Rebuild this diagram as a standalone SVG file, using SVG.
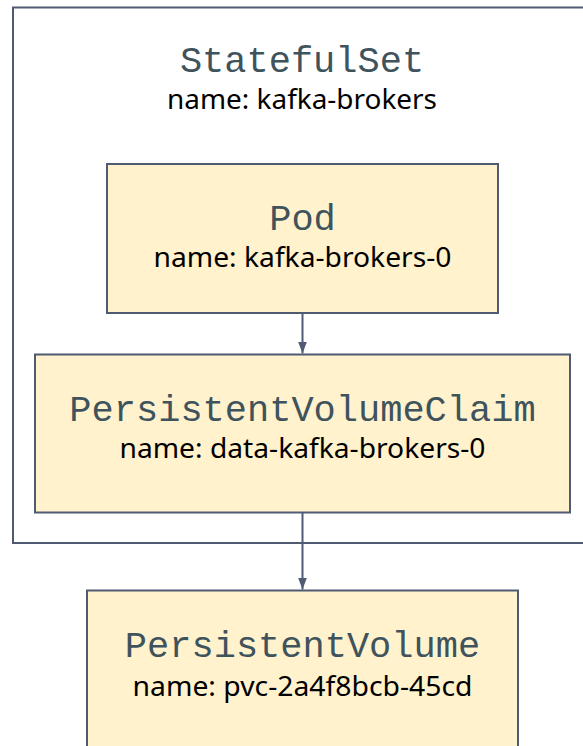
<svg xmlns="http://www.w3.org/2000/svg" width="583" height="746" viewBox="0 0 583 746">
  <defs>
    <style>
      .box { fill: #fff2cc; stroke: #4e5b72; stroke-width: 2; }
      .frame { fill: #ffffff; stroke: #4e5b72; stroke-width: 2; }
      .kind { font-family: "Liberation Mono", "Courier New", monospace; font-size: 37px; fill: #3f535c; text-anchor: middle; }
      .name { font-family: "Noto Sans", "Liberation Sans", sans-serif; font-size: 27px; fill: #000000; text-anchor: middle; }
      .edge { stroke: #4e5b72; stroke-width: 2; fill: none; }
    </style>
    <marker id="arrow" markerUnits="userSpaceOnUse" markerWidth="12" markerHeight="10" viewBox="0 0 12 10" refX="12" refY="5" orient="auto">
      <path d="M0,0.5 L12,5 L0,9.5 z" fill="#4e5b72"/>
    </marker>
  </defs>
  <rect width="583" height="746" fill="#ffffff"/>

  <!-- StatefulSet container -->
  <g id="statefulset">
    <rect class="frame" x="13" y="7.5" width="580" height="535.5"/>
    <text class="kind" x="302" y="72">StatefulSet</text>
    <text class="name" x="302" y="109" textLength="270" lengthAdjust="spacingAndGlyphs">name: kafka-brokers</text>
  </g>

  <g id="pod">
    <rect class="box" x="107" y="164" width="391" height="149"/>
    <text class="kind" x="302.5" y="230">Pod</text>
    <text class="name" x="302.5" y="267" textLength="298" lengthAdjust="spacingAndGlyphs">name: kafka-brokers-0</text>
  </g>

  <g id="pvc">
    <rect class="box" x="35" y="354.5" width="535" height="158"/>
    <text class="kind" x="302.5" y="420.5">PersistentVolumeClaim</text>
    <text class="name" x="302.5" y="458" textLength="366" lengthAdjust="spacingAndGlyphs">name: data-kafka-brokers-0</text>
  </g>

  <g id="pv">
    <rect class="box" x="87" y="590.5" width="431" height="170"/>
    <text class="kind" x="302.5" y="657">PersistentVolume</text>
    <text class="name" x="302.5" y="696" textLength="340" lengthAdjust="spacingAndGlyphs">name: pvc-2a4f8bcb-45cd</text>
  </g>

  <!-- connectors -->
  <g id="connectors">
    <line class="edge" x1="302.5" y1="313" x2="302.5" y2="353.5" marker-end="url(#arrow)"/>
    <line class="edge" x1="302.5" y1="512.5" x2="302.5" y2="589.5" marker-end="url(#arrow)"/>
  </g>
</svg>
